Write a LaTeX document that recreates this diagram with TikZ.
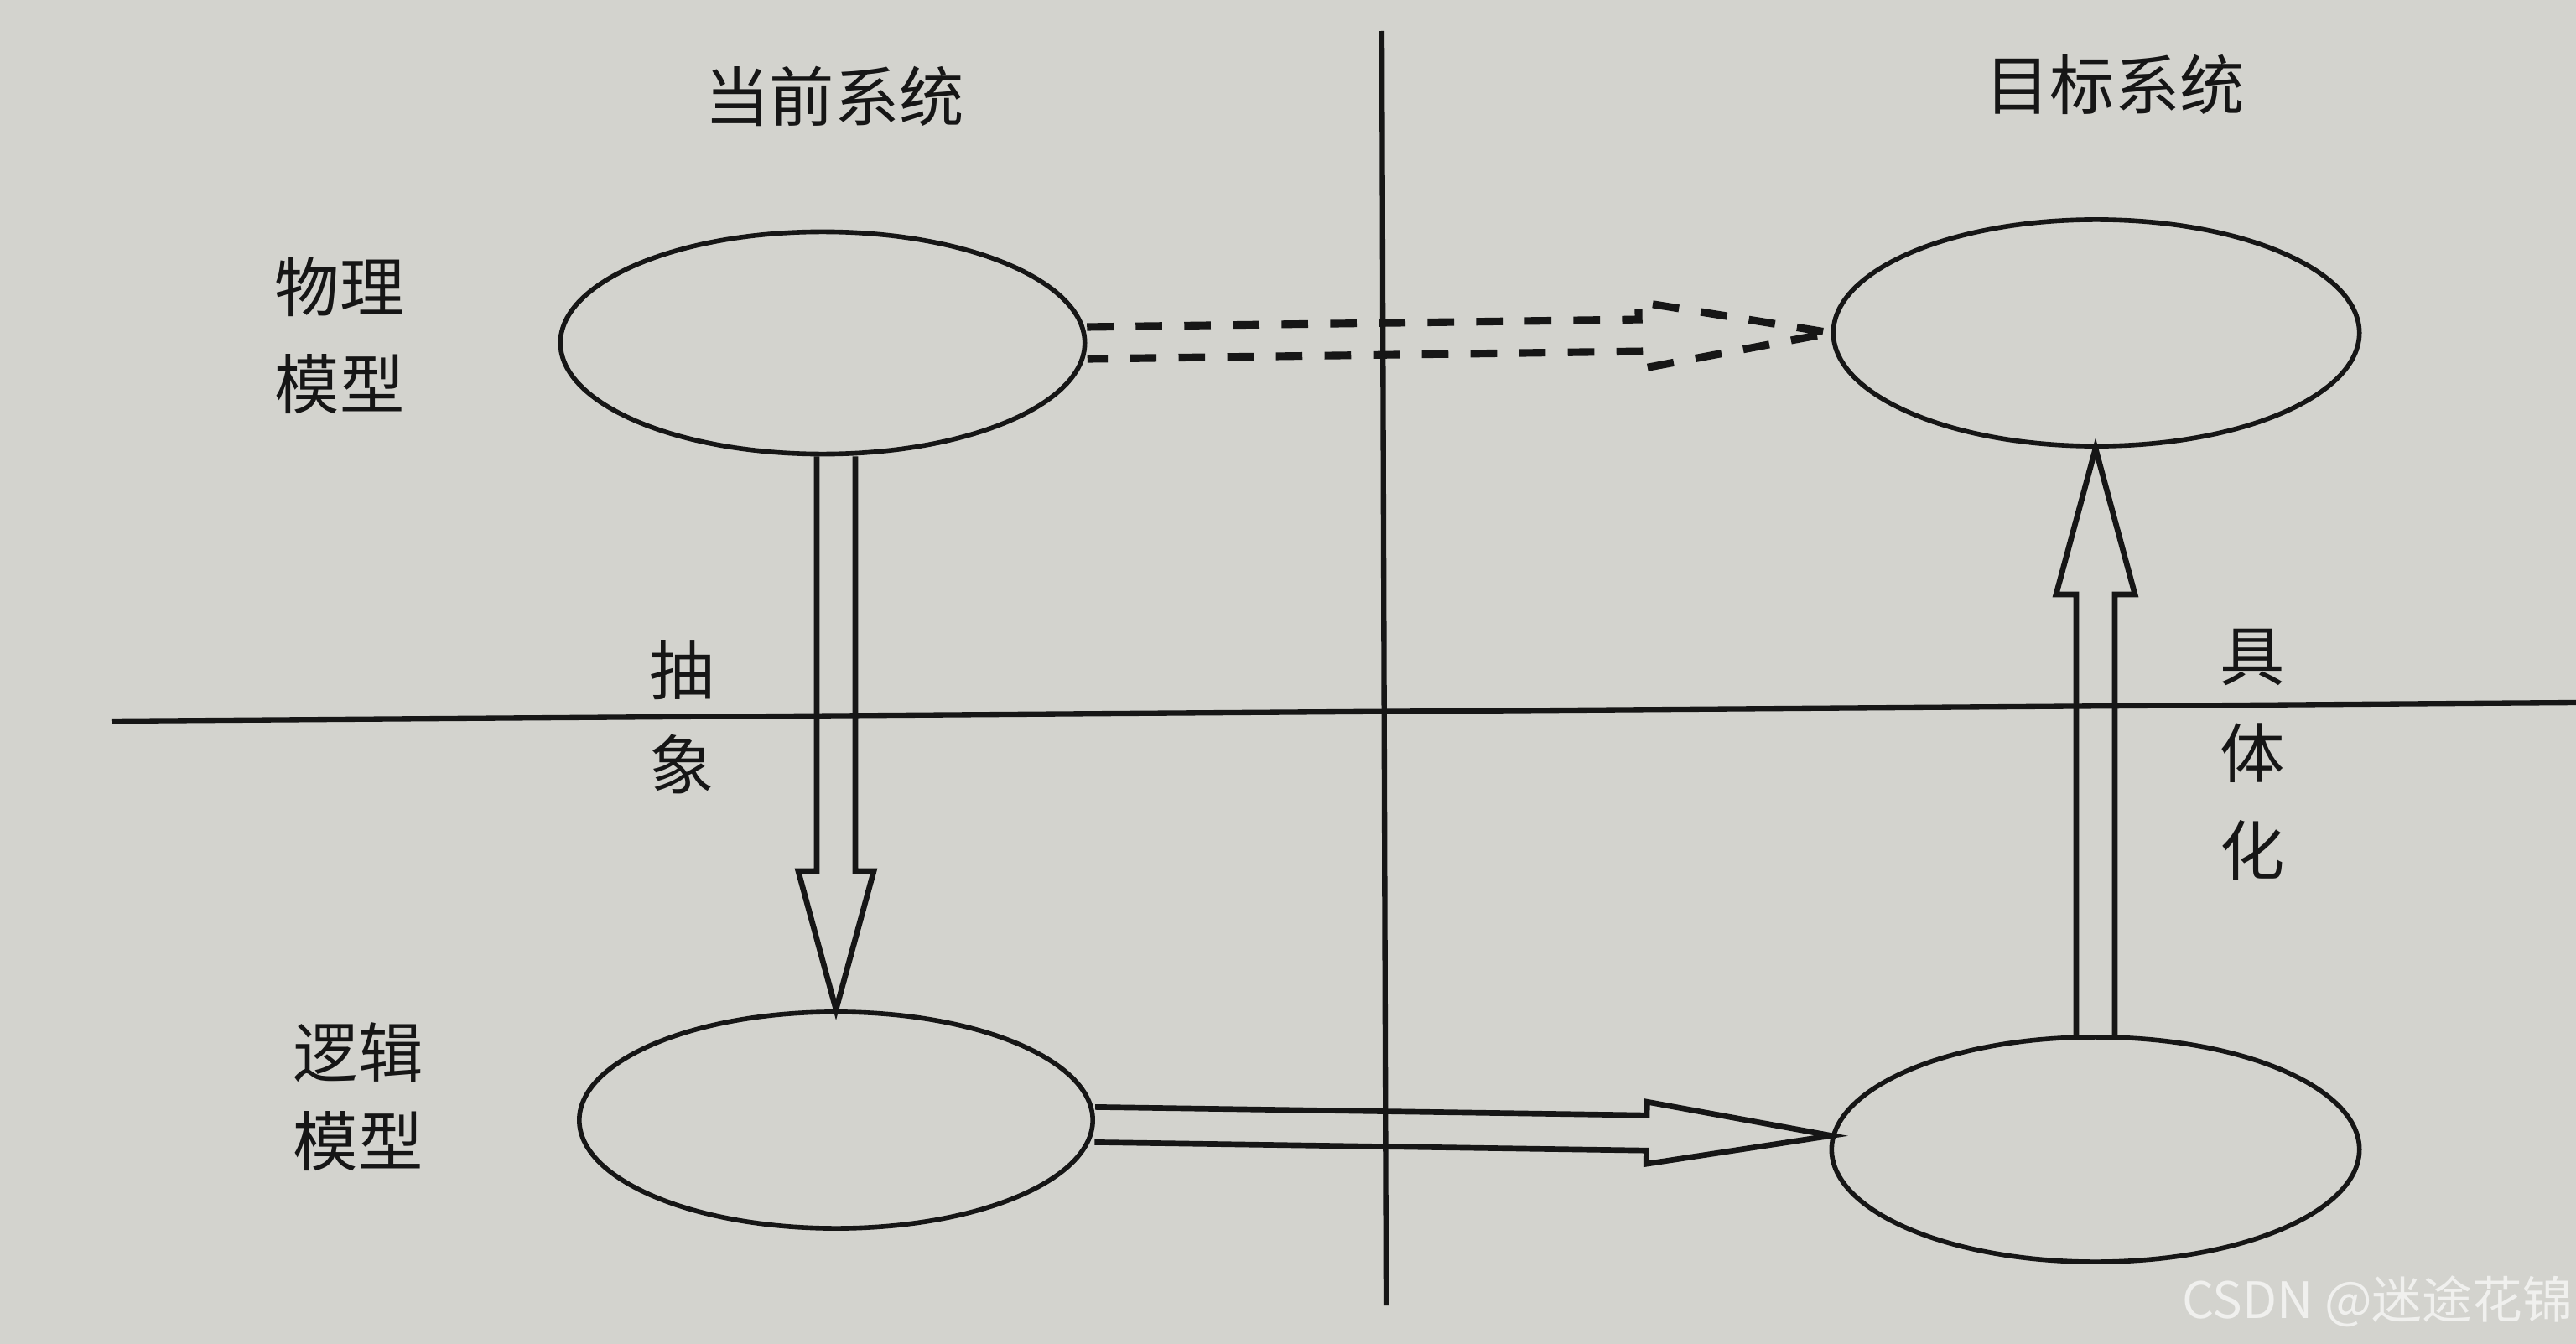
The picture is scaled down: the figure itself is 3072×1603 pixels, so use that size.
\documentclass[tikz,border=0pt]{standalone}
\usepackage{fontspec}
\setmainfont{Noto Sans CJK SC}
\usetikzlibrary{shapes.geometric,calc}

\definecolor{pagegray}{RGB}{211,211,206}
\definecolor{inkblack}{RGB}{22,22,22}
\definecolor{markwhite}{RGB}{240,240,238}

\tikzset{
	model/.style={ellipse, draw=inkblack, line width=1.6pt, inner sep=0pt, minimum width=6.25cm, minimum height=2.65cm},
	cjktext/.style={inner sep=0pt, align=center, text=inkblack, font=\fontsize{22pt}{33pt}\selectfont},
	axis/.style={draw=inkblack, line width=1.8pt},
	hollow/.style={draw=inkblack, line width=1.9pt, line join=miter},
	hollowdash/.style={hollow, line width=2.6pt, dash pattern=on 9pt off 7.5pt}
}

\newcommand{\hollowarrow}[6][]{%
	\coordinate (ha-b) at ($(#3)!#6!(#2)$);
	\draw[hollow,#1] ($(#2)!#4!90:(#3)$) -- ($(ha-b)!#4!90:(#3)$) -- ($(ha-b)!#5!90:(#3)$) -- (#3)
		-- ($(ha-b)!#5!-90:(#3)$) -- ($(ha-b)!#4!-90:(#3)$) -- ($(#2)!#4!-90:(#3)$);
}

\begin{document}
\begin{tikzpicture}[x=0.01cm, y=-0.01cm]
	\useasboundingbox (0,0) rectangle (3072,1603);
	\fill[pagegray] (0,0) rectangle (3072,1603);

	\coordinate (vTop) at (1648,37);
	\coordinate (vBot) at (1653,1557);
	\coordinate (hLeft) at (133,860);
	\coordinate (hRight) at (3072,838);
	\draw[axis] (vTop) -- (vBot);
	\draw[axis] (hLeft) -- (hRight);

	\node[cjktext] (curSys) at (995,115) {当前系统};
	\node[cjktext] (tgtSys) at (2522,101) {目标系统};

	\node[model] (phyCur) at (981,409) {};
	\node[model, minimum width=6.27cm, minimum height=2.70cm] (phyTgt) at (2500,397) {};
	\node[model, minimum width=6.12cm, minimum height=2.58cm] (logCur) at (997,1336) {};
	\node[model, minimum width=6.29cm, minimum height=2.68cm] (logTgt) at (2499,1371) {};

	\node[cjktext] (phyLbl) at (405,400) {物理\\模型};
	\node[cjktext, font=\fontsize{22pt}{30pt}\selectfont] (logLbl) at (427,1308) {逻辑\\模型};
	\node[cjktext, font=\fontsize{22pt}{32pt}\selectfont] (absLbl) at (813,855) {抽\\象};
	\node[cjktext] (conLbl) at (2686,900) {具\\体\\化};

	\coordinate (absTop) at (phyCur.south -| logCur.north);
	\coordinate (conTop) at (phyTgt.south -| logTgt.north);

	\hollowarrow[hollowdash]{phyCur.east}{phyTgt.west}{0.19cm}{0.40cm}{2.29cm}
	\hollowarrow{absTop}{logCur.north}{0.23cm}{0.45cm}{1.65cm}
	\hollowarrow{logCur.-1}{logTgt.177}{0.21cm}{0.37cm}{2.20cm}
	\hollowarrow{logTgt.north}{conTop}{0.23cm}{0.47cm}{1.74cm}

	\node[text=markwhite, inner sep=0pt, font=\fontsize{17pt}{20pt}\selectfont] (mark) at (2835,1552) {CSDN @迷途花锦};
\end{tikzpicture}
\end{document}
